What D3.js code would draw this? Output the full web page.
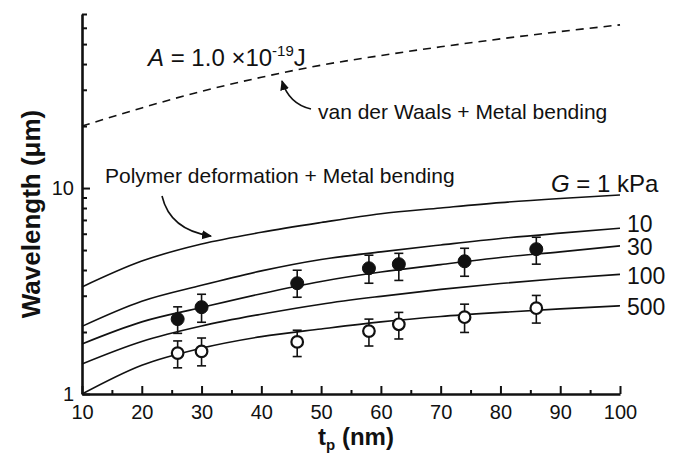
<!DOCTYPE html>
<html>
<head>
<meta charset="utf-8">
<script src="https://cdn.jsdelivr.net/npm/d3@7"></script>
<style>
  body { margin: 0; background: #fff; }
  svg { display: block; }
  text { font-family: "Liberation Sans", Arial, sans-serif; fill: #111; }
</style>
</head>
<body>
<svg id="chart" width="680" height="454"></svg>
<script>
// t_p values where the model curves were read (nm)
var curveT = [10, 20, 30, 40, 50, 60, 70, 80, 90, 100];

// model curves, wavelength in um
var vdwCurve = [20, 24.5, 29.5, 34.5, 39.5, 44, 48.5, 53, 57.5, 62];
var g1Curve = [3.31, 4.42, 5.35, 6.1, 6.8, 7.5, 8.0, 8.5, 8.9, 9.25];
var g10Curve = [2.13, 2.82, 3.37, 3.96, 4.50, 4.90, 5.29, 5.69, 6.04, 6.38];
var g30Curve = [1.75, 2.24, 2.63, 3.07, 3.52, 3.91, 4.25, 4.60, 4.90, 5.24];
var g100Curve = [1.40, 1.80, 2.14, 2.44, 2.73, 2.98, 3.22, 3.44, 3.64, 3.81];
var g500Curve = [1.0, 1.38, 1.67, 1.90, 2.07, 2.24, 2.38, 2.49, 2.59, 2.68];
var curveLabels = ["10", "30", "100", "500"];

// measured points
var dataT = [26, 30, 46, 58, 63, 74, 86];
var filledY = [2.31, 2.64, 3.45, 4.08, 4.27, 4.41, 5.05];
var filledLo = [1.97, 2.23, 2.95, 3.45, 3.56, 3.73, 4.27];
var filledHi = [2.65, 3.05, 3.99, 4.72, 4.82, 5.10, 5.77];
var openY = [1.58, 1.61, 1.79, 2.02, 2.18, 2.36, 2.61];
var openLo = [1.34, 1.37, 1.52, 1.71, 1.85, 1.99, 2.21];
var openHi = [1.81, 1.87, 2.04, 2.31, 2.49, 2.73, 3.01];

var xMajor = [10, 20, 30, 40, 50, 60, 70, 80, 90, 100];
var xMinor = [15, 25, 35, 45, 55, 65, 75, 85, 95];
var yMajor = [1, 10];
var yMinor = [2, 3, 4, 5, 6, 7, 8, 9, 20, 30, 40, 50, 60, 70];

var svg = d3.select("#chart");

var x = d3.scaleLinear().domain([10, 100]).range([82, 620]);
var y = d3.scaleLog().domain([1, 70]).range([394, 14]);

var line = d3.line()
  .x(function (d) { return x(d[0]); })
  .y(function (d) { return y(d[1]); })
  .curve(d3.curveMonotoneX);

function pairs(vals) {
  return curveT.map(function (t, i) { return [t, vals[i]]; });
}

// ---- curves
svg.append("path")
  .attr("d", line(pairs(vdwCurve)))
  .attr("fill", "none")
  .attr("stroke", "#111")
  .attr("stroke-width", 1.6)
  .attr("stroke-dasharray", "8,6");

var solid = [g1Curve, g10Curve, g30Curve, g100Curve, g500Curve];
solid.forEach(function (c) {
  svg.append("path")
    .attr("d", line(pairs(c)))
    .attr("fill", "none")
    .attr("stroke", "#111")
    .attr("stroke-width", 1.6);
});

// ---- error bars + markers
function drawPoints(vals, lo, hi, filled) {
  var g = svg.append("g");
  dataT.forEach(function (t, i) {
    var cx = x(t);
    g.append("line")
      .attr("x1", cx).attr("x2", cx)
      .attr("y1", y(lo[i])).attr("y2", y(hi[i]))
      .attr("stroke", "#111").attr("stroke-width", 1.6);
    [lo[i], hi[i]].forEach(function (v) {
      g.append("line")
        .attr("x1", cx - 4.5).attr("x2", cx + 4.5)
        .attr("y1", y(v)).attr("y2", y(v))
        .attr("stroke", "#111").attr("stroke-width", 1.6);
    });
    g.append("circle")
      .attr("cx", cx).attr("cy", y(vals[i]))
      .attr("r", filled ? 6.5 : 5.8)
      .attr("fill", filled ? "#111" : "#fff")
      .attr("stroke", "#111")
      .attr("stroke-width", filled ? 1 : 2.2);
  });
}
drawPoints(filledY, filledLo, filledHi, true);
drawPoints(openY, openLo, openHi, false);

// ---- axes (ticks point inward)
svg.append("g").attr("transform", "translate(0,394)")
  .call(d3.axisBottom(x).tickValues(xMajor).tickSizeInner(-8).tickSizeOuter(0).tickPadding(11));
svg.append("g").attr("transform", "translate(0,394)")
  .call(d3.axisBottom(x).tickValues(xMinor).tickSizeInner(-4).tickSizeOuter(0).tickFormat(""))
  .select(".domain").remove();

svg.append("g").attr("transform", "translate(82,0)")
  .call(d3.axisLeft(y).tickValues(yMajor).tickSizeInner(-8).tickSizeOuter(0).tickPadding(8).tickFormat(d3.format("d")));
svg.append("g").attr("transform", "translate(82,0)")
  .call(d3.axisLeft(y).tickValues(yMinor).tickSizeInner(-5).tickSizeOuter(0).tickFormat(""))
  .select(".domain").remove();

svg.selectAll(".domain").attr("stroke", "#111").attr("stroke-width", 2.6);
svg.selectAll(".tick line").attr("stroke", "#111").attr("stroke-width", 2);
svg.selectAll(".tick text")
  .style("font-family", "'Liberation Sans', Arial, sans-serif")
  .style("font-size", "20px")
  .attr("fill", "#111");

// ---- axis titles
svg.append("text")
  .attr("transform", "translate(40,214) rotate(-90)")
  .attr("text-anchor", "middle")
  .style("font-size", "26px").style("font-weight", "bold")
  .text("Wavelength (\u03bcm)");

var xt = svg.append("text")
  .attr("x", 356).attr("y", 445)
  .attr("text-anchor", "middle")
  .style("font-size", "24px").style("font-weight", "bold");
xt.append("tspan").text("t");
xt.append("tspan").attr("dy", 5).style("font-size", "15px").text("p");
xt.append("tspan").attr("dy", -5).text(" (nm)");

// ---- curve labels
var gl = svg.append("text").attr("x", 551).attr("y", 192).style("font-size", "24px");
gl.append("tspan").style("font-style", "italic").text("G");
gl.append("tspan").text(" = 1 kPa");

var labelShift = [-5, 1, 1, 1];
[g10Curve, g30Curve, g100Curve, g500Curve].forEach(function (c, i) {
  svg.append("text")
    .attr("x", 627)
    .attr("y", y(c[c.length - 1]) + labelShift[i])
    .attr("dy", "0.36em")
    .style("font-size", "23px")
    .text(curveLabels[i]);
});

// ---- annotations
var at = svg.append("text").attr("x", 148).attr("y", 66).style("font-size", "24px");
at.append("tspan").style("font-style", "italic").text("A");
at.append("tspan").text(" = 1.0 \u00d710");
at.append("tspan").attr("dy", -10).style("font-size", "15px").text("-19");
at.append("tspan").attr("dy", 10).text("J");

svg.append("text").attr("x", 318).attr("y", 119).style("font-size", "21px")
  .text("van der Waals + Metal bending");
svg.append("text").attr("x", 105).attr("y", 183).style("font-size", "21px")
  .text("Polymer deformation + Metal bending");

svg.append("defs").append("marker")
  .attr("id", "head")
  .attr("viewBox", "0 0 10 10")
  .attr("refX", 8).attr("refY", 5)
  .attr("markerWidth", 7).attr("markerHeight", 7)
  .attr("orient", "auto")
  .append("path").attr("d", "M0,1 L9,5 L0,9 Z").attr("fill", "#111");

var p1 = d3.path();
p1.moveTo(311, 109);
p1.quadraticCurveTo(289, 104, 282, 81);
svg.append("path").attr("d", p1.toString())
  .attr("fill", "none").attr("stroke", "#111").attr("stroke-width", 1.6)
  .attr("marker-end", "url(#head)");

var p2 = d3.path();
p2.moveTo(162, 196);
p2.quadraticCurveTo(170, 230, 211, 236);
svg.append("path").attr("d", p2.toString())
  .attr("fill", "none").attr("stroke", "#111").attr("stroke-width", 1.6)
  .attr("marker-end", "url(#head)");
</script>
</body>
</html>
